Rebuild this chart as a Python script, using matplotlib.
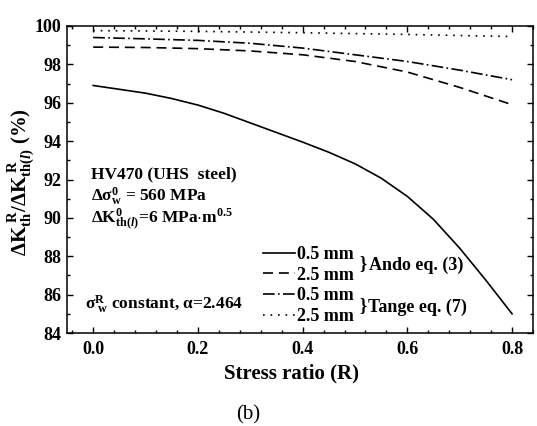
import matplotlib
matplotlib.use("Agg")
import matplotlib.pyplot as plt
from matplotlib.lines import Line2D
from matplotlib.ticker import MultipleLocator

plt.rcParams['font.family'] = ['Liberation Serif', 'DejaVu Serif']
plt.rcParams['font.weight'] = 'bold'
plt.rcParams['mathtext.fontset'] = 'custom'
plt.rcParams['mathtext.rm'] = 'Liberation Serif:bold'
plt.rcParams['mathtext.it'] = 'Liberation Serif:bold:italic'
plt.rcParams['mathtext.bf'] = 'Liberation Serif:bold'
plt.rcParams['mathtext.default'] = 'rm'

# Stress ratio R and threshold ratio (%) for each model / defect size
r_ando_05 = [0.0, 0.05, 0.1, 0.15, 0.2, 0.25, 0.3, 0.35, 0.4, 0.45, 0.5,
             0.55, 0.6, 0.65, 0.7, 0.75, 0.8]
ando_05 = [96.9, 96.7, 96.5, 96.22, 95.88, 95.45, 94.95, 94.45, 93.95, 93.42, 92.82,
           92.07, 91.12, 89.92, 88.42, 86.75, 85.0]

r_grid = [0.0, 0.1, 0.2, 0.3, 0.4, 0.5, 0.6, 0.7, 0.8]
ando_25 = [98.9, 98.88, 98.82, 98.7, 98.5, 98.15, 97.6, 96.8, 95.9]
tange_05 = [99.4, 99.33, 99.25, 99.1, 98.85, 98.5, 98.15, 97.7, 97.2]

r_tange_25 = [0.0, 0.2, 0.4, 0.6, 0.8]
tange_25 = [99.76, 99.72, 99.65, 99.56, 99.45]

legend_labels = ['0.5 mm', '2.5 mm', '0.5 mm', '2.5 mm']
x_ticks = [0.0, 0.2, 0.4, 0.6, 0.8]
y_ticks = [84, 86, 88, 90, 92, 94, 96, 98, 100]

fig = plt.figure(figsize=(5.37, 4.26), dpi=100)
ax = fig.add_axes([67 / 537, 93 / 426, 466 / 537, 307 / 426])

lw = 1.2
styles = [
    dict(linestyle='-'),
    dict(linestyle=(0, (6, 3.5))),
    dict(linestyle=(0, (7, 2, 1, 2))),
    dict(linestyle=(0, (1, 3.5))),
]
series = [(r_ando_05, ando_05), (r_grid, ando_25), (r_grid, tange_05), (r_tange_25, tange_25)]
for (xs, ys), st in zip(series, styles):
    ax.plot(xs, ys, color='black', lw=lw, **st)

ax.set_xlim(-0.05, 0.84)
ax.set_ylim(84, 100)
ax.set_xticks(x_ticks)
ax.set_xticklabels([f'{v:.1f}' for v in x_ticks])
ax.set_yticks(y_ticks)
ax.xaxis.set_minor_locator(MultipleLocator(0.04))
ax.yaxis.set_minor_locator(MultipleLocator(1))
ax.tick_params(which='both', direction='in', top=True, right=True, width=1.0)
ax.tick_params(which='major', length=4, labelsize=13, pad=6)
ax.tick_params(axis='y', which='major', pad=4)
ax.tick_params(which='minor', length=2.2)
for s in ax.spines.values():
    s.set_linewidth(1.1)

handles = [Line2D([], [], color='black', lw=lw, **st) for st in styles]
ax.legend(handles, legend_labels, loc='upper left', bbox_to_anchor=(0.4206, 0.283),
          frameon=False, fontsize=13, handlelength=1.75, handletextpad=0.15,
          labelspacing=0.2, borderpad=0, borderaxespad=0)

txt = dict(fontsize=13, fontweight='bold')
ax.text(0.509, 87.62, '}', ha='left', va='center', **txt)
ax.text(0.527, 87.52, 'Ando eq. (3)', ha='left', va='center', **txt)
ax.text(0.509, 85.45, '}', ha='left', va='center', **txt)
ax.text(0.524, 85.35, 'Tange eq. (7)', ha='left', va='center', **txt)

ann = dict(fontsize=12.5, fontweight='bold', ha='left', va='baseline')
ax.text(-0.005, 92.08, 'HV470 (UHS  steel)', **ann)
ax.text(-0.005, 90.88, r'$\Delta\sigma^{0}_{w}$ = 560 MPa', **ann)
ax.text(-0.005, 89.73, r'$\Delta K^{0}_{th(\mathit{l})}$=6 MPa$\cdot$m$^{0.5}$', **ann)
ax.text(-0.015, 85.27, r'$\sigma^{R}_{\ w}$ constant, $\alpha$=2.464', **ann)

fig.text(291 / 537, (426 - 373) / 426, 'Stress ratio (R)', ha='center', va='center',
         fontsize=15, fontweight='bold')
fig.text(21.7 / 537, (426 - 181.7) / 426,
         r'$\Delta K_{th}^{\ R}/\Delta K_{th(\mathit{l})}^{\ R}$ (%)',
         rotation=90, ha='center', va='center', fontsize=15, fontweight='bold')
fig.text(248 / 537, (426 - 415) / 426, '(b)', ha='center', va='center',
         fontsize=15, fontweight='normal')

fig.savefig('out.png', dpi=100)
